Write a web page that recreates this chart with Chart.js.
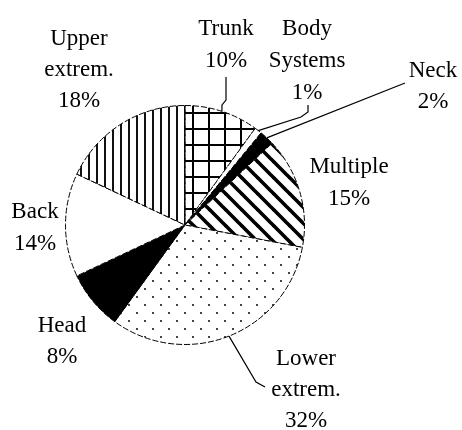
<!DOCTYPE html>
<html>
<head>
<meta charset="utf-8">
<script src="https://cdn.jsdelivr.net/npm/chart.js@4/dist/chart.umd.min.js"></script>
<style>
  html, body { margin: 0; padding: 0; background: #fff; }
  #wrap { width: 462px; height: 430px; }
</style>
</head>
<body>
<div id="wrap"><canvas id="c" width="462" height="430"></canvas></div>
<script>
// ---- data ----
const categories = ['Trunk', 'Body Systems', 'Neck', 'Multiple', 'Lower extrem.', 'Head', 'Back', 'Upper extrem.'];
const shares = [10, 1, 2, 15, 32, 8, 14, 18];
const fillKinds = ['grid', 'white', 'black', 'diag', 'dots', 'black', 'white', 'vert'];

// ---- layout (label anchors: centre x, first baseline y) ----
const labelPos = [[226, 35], [307, 35], [433, 77], [349, 173], [306, 365], [62, 332], [35, 218], [79, 45]];
const lineGap = [32, 32, 31, 32, 31, 31, 32, 31];
// leader lines: label-side bend points, ending on the slice edge (computed)
const leaders = {
  0: [[226, 77], [226, 100], [222, 105]],
  1: [[308, 105], [308, 112], [301, 117]],
  2: [[405, 83]],
  4: [[265, 387], [256, 382]]
};

function makePattern(kind) {
  const size = kind === 'vert' ? 8 : 16;
  const c = document.createElement('canvas');
  c.width = size; c.height = size;
  const g = c.getContext('2d');
  g.fillStyle = '#fff'; g.fillRect(0, 0, size, size);
  g.fillStyle = '#000'; g.strokeStyle = '#000';
  if (kind === 'grid') {
    g.fillRect(0, 0, 2, size); g.fillRect(0, 0, size, 2);
  } else if (kind === 'vert') {
    g.fillStyle = '#111'; g.fillRect(0, 0, 2, size);
  } else if (kind === 'diag') {
    g.lineWidth = 3.6;
    for (let k = -1; k <= 1; k++) {
      g.beginPath(); g.moveTo(k * size - 4, -4); g.lineTo(k * size + size + 4, size + 4); g.stroke();
    }
  } else if (kind === 'dots') {
    g.fillStyle = '#444';
    g.fillRect(0, 0, 2, 2); g.fillRect(8, 8, 2, 2);
  } else if (kind === 'black') {
    return '#000';
  } else {
    return '#fff';
  }
  return c.getContext('2d').createPattern(c, 'repeat');
}

const labelPlugin = {
  id: 'labels',
  afterDraw(chart) {
    const ctx = chart.ctx;
    const arcs = chart.getDatasetMeta(0).data;
    ctx.save();
    // leader lines
    ctx.strokeStyle = '#000'; ctx.lineWidth = 1.2;
    Object.keys(leaders).forEach(k => {
      const a = arcs[k];
      const mid = (a.startAngle + a.endAngle) / 2;
      const ex = a.x + Math.cos(mid) * a.outerRadius;
      const ey = a.y + Math.sin(mid) * a.outerRadius;
      const pts = leaders[k];
      ctx.beginPath();
      ctx.moveTo(pts[0][0], pts[0][1]);
      for (let i = 1; i < pts.length; i++) ctx.lineTo(pts[i][0], pts[i][1]);
      ctx.lineTo(ex, ey);
      ctx.stroke();
    });
    // labels
    ctx.fillStyle = '#000';
    ctx.font = '23px "Liberation Serif", "Times New Roman", serif';
    ctx.textAlign = 'center';
    ctx.textBaseline = 'alphabetic';
    categories.forEach((name, i) => {
      const lines = name.split(' ').concat([shares[i] + '%']);
      const [x, y] = labelPos[i];
      lines.forEach((t, j) => ctx.fillText(t, x, y + j * lineGap[i]));
    });
    ctx.restore();
  }
};

new Chart(document.getElementById('c'), {
  type: 'pie',
  data: {
    labels: categories,
    datasets: [{
      data: shares,
      backgroundColor: fillKinds.map(makePattern),
      borderColor: '#000',
      borderWidth: 1,
      borderDash: [6, 2],
      hoverOffset: 0
    }]
  },
  options: {
    responsive: false,
    animation: false,
    events: [],
    layout: { padding: { left: 65, right: 157, top: 105, bottom: 85 } },
    plugins: { legend: { display: false }, tooltip: { enabled: false } }
  },
  plugins: [labelPlugin]
});
</script>
</body>
</html>
